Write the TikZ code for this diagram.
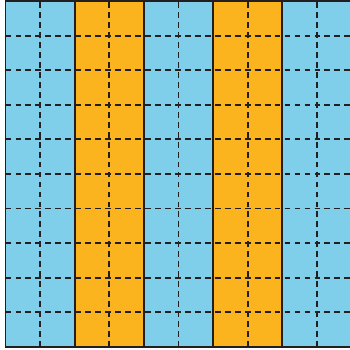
\documentclass[tikz,border=0pt]{standalone}
\usetikzlibrary{arrows.meta,positioning}
\definecolor{sblue}{HTML}{7FCFEB}
\definecolor{sgold}{HTML}{FBB41E}
\definecolor{sline}{HTML}{231F20}

\begin{document}
\begin{tikzpicture}[x=0.5cm, y=0.5cm,
    gridline/.style={sline, line width=0.75pt, dash pattern=on 2.4pt off 1.7pt},
    stripeline/.style={sline, line width=0.75pt}]
    \useasboundingbox (-0.16,-0.09) rectangle (9.96,10.03);
    % stripes
    \foreach \x/\col in {0/sblue, 2/sgold, 4/sblue, 6/sgold, 8/sblue}{
      \fill[\col] (\x,0) rectangle (\x+2,10);
    }
    % grid
    \foreach \y in {1,...,9}{
      \draw[gridline] (0,\y) -- (10,\y);
    }
    \foreach \x in {1,3,5,7,9}{
      \draw[gridline] (\x,0) -- (\x,10);
    }
    % borders
    \foreach \x in {2,4,6,8}{
      \draw[stripeline] (\x,0) -- (\x,10);
    }
    \draw[stripeline] (0,0) rectangle (10,10);
\end{tikzpicture}
\end{document}
